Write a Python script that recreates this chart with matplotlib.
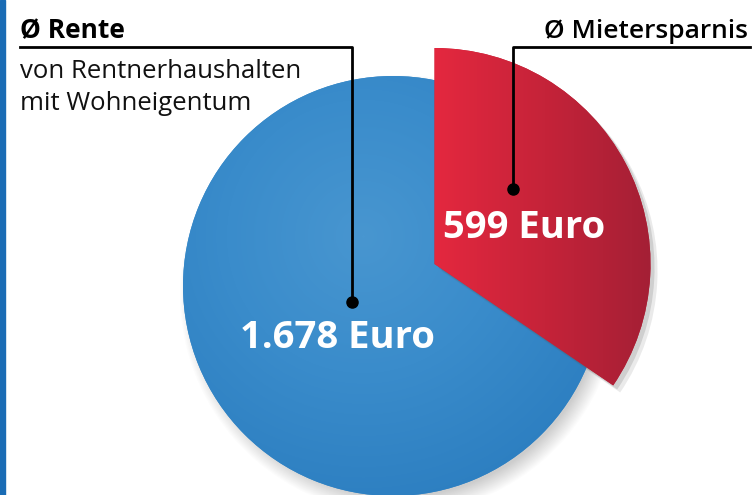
import numpy as np
import matplotlib
matplotlib.use("Agg")
import matplotlib.pyplot as plt
from matplotlib.colors import LinearSegmentedColormap
from matplotlib.patches import Wedge

# Data
labels = ["Ø Rente", "Ø Mietersparnis"]
values = [1678, 599]                      # Euro
value_text = ["1.678 Euro", "599 Euro"]
# share of the circle each slice takes in the drawing
drawn_share = [0.655, 0.345]
subtitle = ["von Rentnerhaushalten", "mit Wohneigentum"]

W, H = 754, 495
plt.rcParams['font.family'] = ['Open Sans', 'DejaVu Sans']

fig = plt.figure(figsize=(W / 100, H / 100), dpi=100)
ax = fig.add_axes([0, 0, 1, 1])

cx, cy, r = 393, H - 286, 210
wedges, _ = ax.pie(drawn_share, colors=["#3a8ccb", "#c22239"], startangle=90,
                   counterclock=True, center=(cx, cy), radius=r,
                   explode=[0, 47], wedgeprops=dict(linewidth=0))
# the blue disc stays whole behind the pulled-out red slice
wedges[0].set_theta2(wedges[0].theta1 + 360)
wedges[1].set_radius(216)
ax.set_xlim(0, W)
ax.set_ylim(0, H)
ax.set_aspect('auto')
ax.axis('off')

# soft drop shadow under the pie
yy, xx = np.mgrid[0:H, 0:W]
d = np.hypot(xx - (cx + 6), (H - yy) - (cy - 8))
alpha = np.clip((r + 10 - d) / 18, 0, 1) * 0.35
shadow = np.zeros((H, W, 4))
shadow[..., :3] = 0.45
shadow[..., 3] = alpha
ax.imshow(shadow, extent=(0, W, 0, H), zorder=0.5, origin='upper')

# gradient fills clipped to the slices
blue_cm = LinearSegmentedColormap.from_list("b", ["#4896d0", "#3a8ccb", "#2d7fc1"])
bd = np.hypot(xx - (cx - 30), (H - yy) - (cy + 50)) / (r * 1.3)
im_b = ax.imshow(bd, cmap=blue_cm, vmin=0, vmax=1, extent=(0, W, 0, H),
                 origin='upper', zorder=1.5)
im_b.set_clip_path(wedges[0])

# shadow of the red slice
w = wedges[1]
for k, a in [(7, 0.12), (4, 0.18)]:
    ax.add_patch(Wedge((w.center[0] + k, w.center[1] - k), w.r, w.theta1, w.theta2,
                       color='#555555', alpha=a, lw=0, zorder=1.8))

red_cm = LinearSegmentedColormap.from_list("r", ["#e5283f", "#c52339", "#a11f35"])
rd = (xx - 430) / 230.0
im_r = ax.imshow(rd, cmap=red_cm, vmin=0, vmax=1, extent=(0, W, 0, H),
                 origin='upper', zorder=2.5)
im_r.set_clip_path(wedges[1])
wedges[0].set_zorder(1)
wedges[1].set_zorder(2)

# blue bar at the left edge
ax.axvspan(0, 5, color="#1a6cb5", zorder=5)

# labels and leader lines
ax.text(20, H - 38, labels[0], fontsize=19, fontweight='bold', color='black',
        ha='left', va='baseline', zorder=6)
for i, line in enumerate(subtitle):
    ax.text(20, H - 78 - 32 * i, line, fontsize=18.5, color='#111111',
            ha='left', va='baseline', zorder=6)
ax.plot([20, 352, 352], [H - 47, H - 47, H - 302], color='black', lw=2, zorder=6)
ax.plot(352, H - 302, 'o', color='black', ms=8, zorder=6)

ax.text(748, H - 38, labels[1], fontsize=19, fontweight='semibold', color='black',
        ha='right', va='baseline', zorder=6)
ax.plot([750, 513, 513], [H - 47, H - 47, H - 189], color='black', lw=2, zorder=6)
ax.plot(513, H - 189, 'o', color='black', ms=8, zorder=6)

ax.text(443, H - 238, value_text[1], fontsize=27.5, fontweight='bold', color='white',
        ha='left', va='baseline', zorder=6)
ax.text(240, H - 348, value_text[0], fontsize=27.5, fontweight='bold', color='white',
        ha='left', va='baseline', zorder=6)

fig.savefig("out.png", dpi=100)
